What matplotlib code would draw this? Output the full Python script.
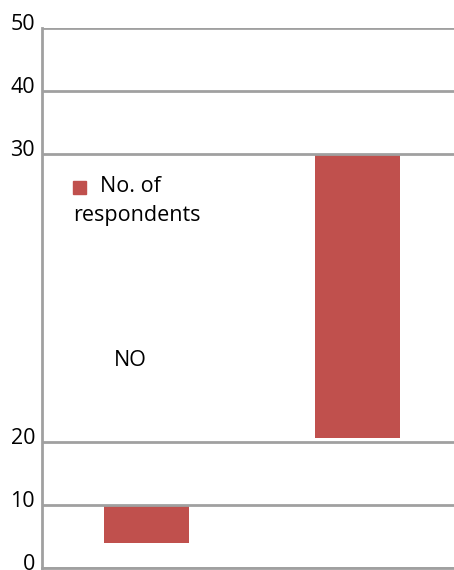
import numpy as np
import matplotlib
matplotlib.use("Agg")
import matplotlib.pyplot as plt
from matplotlib.patches import Rectangle
from matplotlib.transforms import ScaledTranslation

# Data
categories = ["NO", "YES"]
bar_low = [4, 20.15]
bar_high = [10, 30]
y_ticks = [0, 10, 20, 30, 40, 50]
series_name = "No. of respondents"

bar_color = "#C0504D"
grid_color = "#A0A0A0"
font = ["Open Sans", "DejaVu Sans"]
fs = 15.5

# piecewise-linear vertical scale (20-30 band is stretched)
_yd = [0, 20, 30, 50]
_yp = [0, 126, 414, 540]

def fwd(v):
    return np.interp(v, _yd, _yp)

def inv(v):
    return np.interp(v, _yp, _yd)

W, H = 454, 570
fig = plt.figure(figsize=(W / 100, H / 100), dpi=100)
ax = fig.add_axes([42 / W, 2 / H, 412 / W, 540 / H])
ax.set_yscale("function", functions=(fwd, inv))

x = np.arange(len(categories))
heights = np.array(bar_high) - np.array(bar_low)
ax.bar(x, heights, bottom=bar_low, width=0.403, color=bar_color, zorder=1)

ax.set_xlim(-0.495, 1.457)
ax.set_ylim(0, 50)
ax.set_yticks(y_ticks)
ax.set_yticklabels([str(t) for t in y_ticks], fontsize=fs, family=font,
                   va="baseline")
ax.set_xticks([])
ax.tick_params(axis="y", length=0, pad=5)
for lab in ax.get_yticklabels():
    lab.set_transform(lab.get_transform() + ScaledTranslation(0, -2 / 100, fig.dpi_scale_trans))

ax.yaxis.grid(True, color=grid_color, linewidth=2, zorder=3)
ax.set_axisbelow(False)
for s in ["top", "right"]:
    ax.spines[s].set_visible(False)
for s in ["left", "bottom"]:
    ax.spines[s].set_color(grid_color)
    ax.spines[s].set_linewidth(2)

# legend drawn inside the plot area
fig.patches.append(Rectangle((73 / W, 1 - 194 / H), 13 / W, 13 / H,
                             transform=fig.transFigure, color=bar_color))
words = series_name.split(" ")
fig.text(100 / W, 1 - 186 / H, " ".join(words[:2]), fontsize=fs, family=font,
         va="center", ha="left")
fig.text(73 / W, 1 - 215 / H, words[2], fontsize=fs, family=font,
         va="center", ha="left")

# category label
fig.text(130 / W, 1 - 360 / H, categories[0], fontsize=fs, family=font,
         va="center", ha="center")

fig.savefig("out.png", dpi=100)
